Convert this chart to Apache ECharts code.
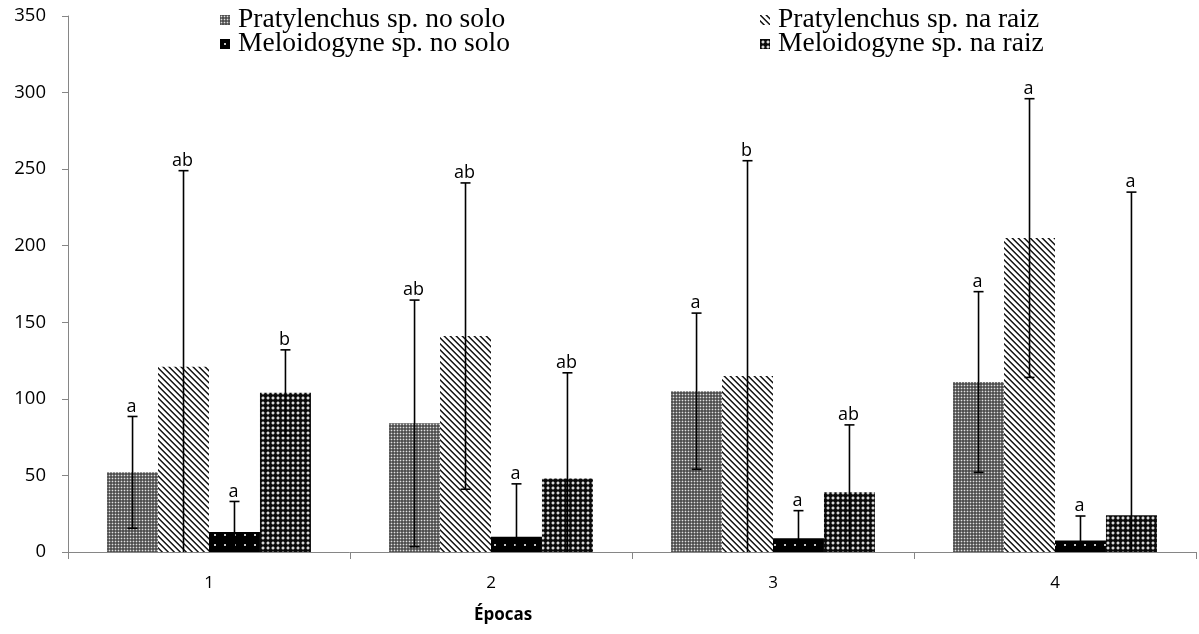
<!DOCTYPE html>
<html>
<head>
<meta charset="utf-8">
<script src="https://cdn.jsdelivr.net/npm/echarts@6/dist/echarts.min.js"></script>
<style>
html,body{margin:0;padding:0;background:#fff;}
#chart{width:1199px;height:634px;}
</style>
</head>
<body>
<div id="chart"></div>
<script>
// ---- data ----
const categories = ['1', '2', '3', '4'];
const seriesNames = ['Pratylenchus sp. no solo', 'Pratylenchus sp. na raiz', 'Meloidogyne sp. no solo', 'Meloidogyne sp. na raiz'];
const pratSoloMean = [52, 84, 105, 111];
const pratSoloErr = [36.5, 80.5, 51, 59];
const pratRaizMean = [121, 141, 115, 205];
const pratRaizErr = [128, 100, 140.5, 91];
const meloSoloMean = [13, 10, 9, 7.5];
const meloSoloErr = [20, 34.5, 18, 16];
const meloRaizMean = [104, 48, 39, 24];
const meloRaizErr = [28, 69, 44, 211];
const pratSoloLetters = ['a', 'ab', 'a', 'a'];
const pratRaizLetters = ['ab', 'ab', 'b', 'a'];
const meloSoloLetters = ['a', 'a', 'a', 'a'];
const meloRaizLetters = ['b', 'ab', 'ab', 'a'];
const yTicks = [0, 50, 100, 150, 200, 250, 300, 350];

const means = [pratSoloMean, pratRaizMean, meloSoloMean, meloRaizMean];
const errs = [pratSoloErr, pratRaizErr, meloSoloErr, meloRaizErr];
const letters = [pratSoloLetters, pratRaizLetters, meloSoloLetters, meloRaizLetters];

// ---- patterns ----
function makeTile(w, h, fn) {
  const c = document.createElement('canvas');
  c.width = w; c.height = h;
  const ctx = c.getContext('2d');
  for (let y = 0; y < h; y++) for (let x = 0; x < w; x++) {
    ctx.fillStyle = fn(x, y);
    ctx.fillRect(x, y, 1, 1);
  }
  return { image: c, repeat: 'repeat' };
}
const patPratSolo = makeTile(3, 3, (x, y) => (x === 1 && y === 1) ? '#e0e0e0' : ((x + y) % 2 === 0 ? '#505050' : '#777777'));
const patPratRaiz = makeTile(6, 6, (x, y) => {
  const m = ((x - y) % 6 + 6) % 6;
  if (m === 0) return '#111111';
  if (m === 1) return '#555555';
  if (m === 5) return '#aaaaaa';
  return '#ffffff';
});
const patMeloSolo = makeTile(10, 10, (x, y) => ((x === 4 || x === 5) && (y === 4 || y === 5)) ? '#c4c4c4' : '#000000');
const patMeloRaiz = makeTile(5, 5, (x, y) => {
  if ((x === 2 || x === 3) && (y === 2 || y === 3)) return '#d8d8d8';
  if ((x === 1 || x === 4) && (y === 2 || y === 3) || (y === 1 || y === 4) && (x === 2 || x === 3)) return '#555555';
  return '#0a0a0a';
});
const patterns = [patPratSolo, patPratRaiz, patMeloSolo, patMeloRaiz];

const GAP = 0.277;

const barSeries = seriesNames.map((name, si) => ({
  name: name,
  type: 'bar',
  data: means[si],
  barGap: '0%',
  barCategoryGap: (GAP * 100) + '%',
  itemStyle: { color: patterns[si] },
  emphasis: { disabled: true },
  z: 2
}));

const errSeries = seriesNames.map((name, si) => ({
  name: name + ' err',
  type: 'custom',
  z: 10,
  silent: true,
  clip: false,
  data: categories.map((c, i) => [i, means[si][i], errs[si][i]]),
  renderItem: function (params, api) {
    const i = params.dataIndex;
    const mean = api.value(1), err = api.value(2);
    const c = api.coord([i, mean]);
    const catW = api.size([1, 0])[0];
    const bw = catW * (1 - GAP) / 4;
    const x = c[0] + (si - 1.5) * bw;
    const yTop = api.coord([i, mean + err])[1];
    let lowVal = mean - err;
    const clipped = lowVal < 0;
    if (clipped) lowVal = 0;
    const yBot = api.coord([i, lowVal])[1];
    const st = { stroke: '#000', lineWidth: 1.6 };
    const children = [
      { type: 'line', shape: { x1: x, y1: yTop, x2: x, y2: yBot }, style: st },
      { type: 'line', shape: { x1: x - 5, y1: yTop, x2: x + 5, y2: yTop }, style: st },
      { type: 'text', style: { text: letters[si][i], x: x - 1, y: yTop - 1, align: 'center', verticalAlign: 'bottom', fill: '#000', font: '18px "Open Sans", sans-serif' } }
    ];
    if (!clipped) children.push({ type: 'line', shape: { x1: x - 5, y1: yBot, x2: x + 5, y2: yBot }, style: st });
    return { type: 'group', children: children };
  }
}));

function legendAt(name, left, top) {
  return {
    data: [{ name: name, icon: 'rect' }],
    left: left, top: top,
    padding: 0,
    itemWidth: 10, itemHeight: 10,
    selectedMode: false,
    textStyle: { fontFamily: '"Liberation Serif", "Times New Roman", serif', fontSize: 27.5, color: '#000', lineHeight: 26, padding: [0, 0, 0, 3] }
  };
}

const chart = echarts.init(document.getElementById('chart'), null, { renderer: 'canvas' });
chart.setOption({
  animation: false,
  backgroundColor: '#fff',
  legend: [
    legendAt(seriesNames[0], 220, 6),
    legendAt(seriesNames[2], 220, 30),
    legendAt(seriesNames[1], 760, 6),
    legendAt(seriesNames[3], 760, 30)
  ],
  grid: { left: 68, right: 3, top: 16, bottom: 82, containLabel: false },
  xAxis: {
    type: 'category',
    data: categories,
    boundaryGap: true,
    axisLine: { lineStyle: { color: '#868686', width: 1 } },
    axisTick: { show: true, length: 7, lineStyle: { color: '#868686' }, alignWithLabel: false },
    axisLabel: { margin: 23, color: '#000', fontSize: 17, fontFamily: '"Open Sans", sans-serif' },
    splitLine: { show: false }
  },
  yAxis: {
    type: 'value',
    min: 0, max: 350, interval: 50,
    axisLine: { show: true, lineStyle: { color: '#868686', width: 1 } },
    axisTick: { show: true, inside: false, length: 6, lineStyle: { color: '#868686' } },
    axisLabel: { margin: 22, color: '#000', fontSize: 18.5, fontFamily: '"Open Sans", sans-serif',
      formatter: v => (yTicks.indexOf(v) >= 0 ? String(v) : '') },
    splitLine: { show: false }
  },
  graphic: [{
    type: 'text',
    left: 474, top: 607,
    style: { text: 'Épocas', fill: '#000', font: 'bold 17px "Open Sans", sans-serif' }
  }],
  series: barSeries.concat(errSeries)
});
</script>
</body>
</html>
